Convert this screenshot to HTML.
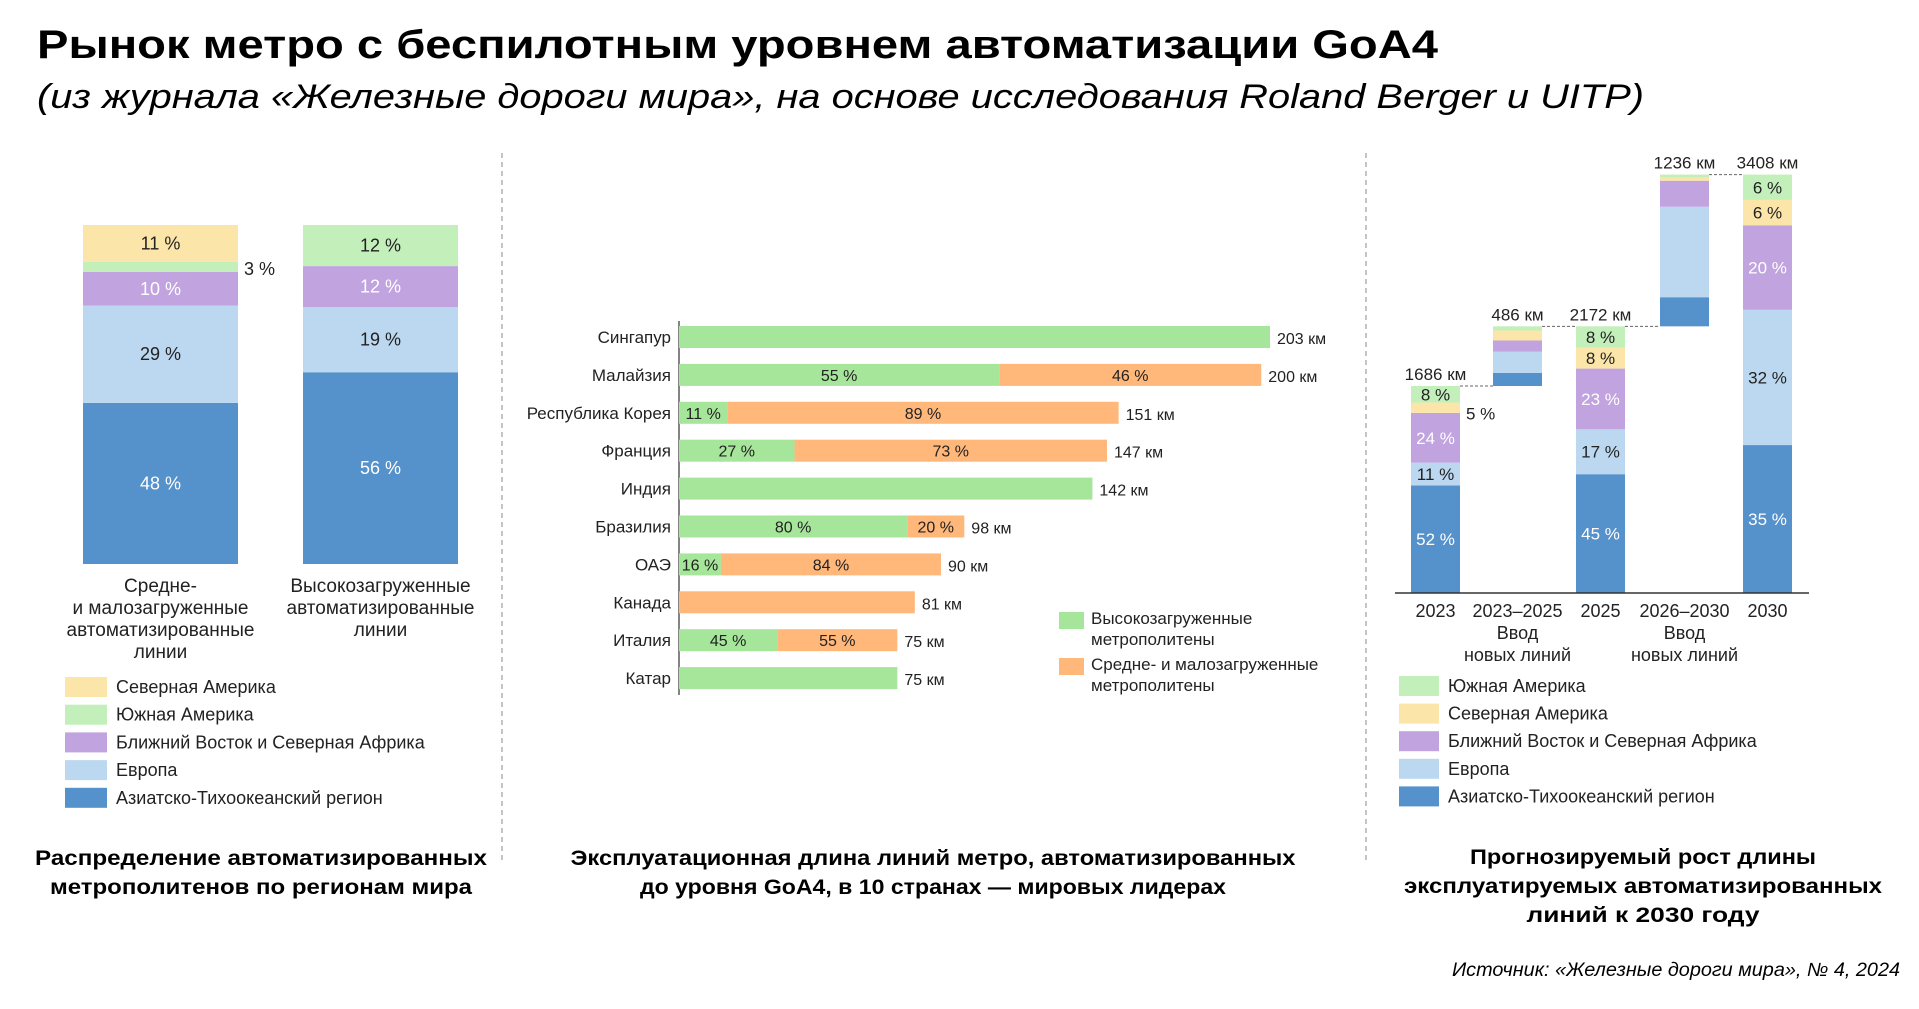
<!DOCTYPE html>
<html><head><meta charset="utf-8"><style>
html,body{margin:0;padding:0;background:#fff;}
svg{display:block;font-family:"Liberation Sans","DejaVu Sans",sans-serif;}
</style></head><body>
<svg id="root" width="1919" height="1009" viewBox="0 0 1919 1009" xmlns="http://www.w3.org/2000/svg">
<text x="37" y="58" font-size="40" font-weight="bold" fill="#000" textLength="1401" lengthAdjust="spacingAndGlyphs">Рынок метро с беспилотным уровнем автоматизации GoA4</text>
<text x="37" y="108" font-size="34" font-style="italic" fill="#000" textLength="1607" lengthAdjust="spacingAndGlyphs">(из журнала «Железные дороги мира», на основе исследования Roland Berger и UITP)</text>
<line x1="502" y1="153" x2="502" y2="863" stroke="#888" stroke-dasharray="5,4"/>
<line x1="1366" y1="153" x2="1366" y2="863" stroke="#888" stroke-dasharray="5,4"/>
<g id="left"></g>
<g id="mid"></g>
<g id="right"></g>
<text x="261" y="865" font-size="21" font-weight="bold" text-anchor="middle" textLength="452" lengthAdjust="spacingAndGlyphs">Распределение автоматизированных</text>
<text x="261" y="894" font-size="21" font-weight="bold" text-anchor="middle" textLength="422" lengthAdjust="spacingAndGlyphs">метрополитенов по регионам мира</text>
<text x="933" y="865" font-size="21" font-weight="bold" text-anchor="middle" textLength="725" lengthAdjust="spacingAndGlyphs">Эксплуатационная длина линий метро, автоматизированных</text>
<text x="933" y="894" font-size="21" font-weight="bold" text-anchor="middle" textLength="586" lengthAdjust="spacingAndGlyphs">до уровня GoA4, в 10 странах — мировых лидерах</text>
<text x="1643" y="864" font-size="21" font-weight="bold" text-anchor="middle" textLength="346" lengthAdjust="spacingAndGlyphs">Прогнозируемый рост длины</text>
<text x="1643" y="893" font-size="21" font-weight="bold" text-anchor="middle" textLength="478" lengthAdjust="spacingAndGlyphs">эксплуатируемых автоматизированных</text>
<text x="1643" y="922" font-size="21" font-weight="bold" text-anchor="middle" textLength="233" lengthAdjust="spacingAndGlyphs">линий к 2030 году</text>
<text x="1900" y="976" font-size="19" font-style="italic" text-anchor="end" textLength="448" lengthAdjust="spacingAndGlyphs">Источник: «Железные дороги мира», № 4, 2024</text>
</svg>
<script>
const NS='http://www.w3.org/2000/svg';
function mk(p,tag,at,txt){const e=document.createElementNS(NS,tag);for(const k in at)e.setAttribute(k,at[k]);if(txt!==undefined)e.textContent=txt;p.appendChild(e);return e;}
const COL={sa:'#C3EFBB',na:'#FBE5A8',mena:'#C1A3E0',eu:'#BBD8F0',apac:'#5591CB'};

// ---------- LEFT chart data ----------
const leftCats=['Средне-|и малозагруженные|автоматизированные|линии','Высокозагруженные|автоматизированные|линии'];
const leftAPAC=[48,56];
const leftEU=[29,19];
const leftMENA=[10,12];
const leftSA=[3,12];
const leftNA=[11,0];

// ---------- MIDDLE chart data ----------
const midCountries=['Сингапур','Малайзия','Республика Корея','Франция','Индия','Бразилия','ОАЭ','Канада','Италия','Катар'];
const midTotals=[203,200,151,147,142,98,90,81,75,75];
const midHighPct=[100,55,11,27,100,80,16,0,45,100];
const midHighLabel=['','55 %','11 %','27 %','','80 %','16 %','','45 %',''];
const midLowLabel=['','46 %','89 %','73 %','','20 %','84 %','','55 %',''];

// ---------- RIGHT chart data ----------
const rightCats=['2023','2023–2025|Ввод|новых линий','2025','2026–2030|Ввод|новых линий','2030'];
const rightKm=[1686,486,2172,1236,3408];
const rightBaseKm=[0,1686,0,2172,0];
const rightAPAC=[52,22,45,19,35];
const rightEU=[11,36,17,59,32];
const rightMENA=[24,19,23,17,20];
const rightNA=[5,17,8,2,6];
const rightSA=[8,7,8,2,6];
const rightShowLabels=[true,false,true,false,true];

// ===== LEFT =====
(function(){
 const g=document.getElementById('left');
 const top=225,bot=564,xs=[83,303],w=155;
 const ser=[['apac',leftAPAC,'#fff'],['eu',leftEU,'#222'],['mena',leftMENA,'#fff'],['sa',leftSA,'#222'],['na',leftNA,'#222']];
 for(let i=0;i<2;i++){
  let tot=0;ser.forEach(s=>tot+=s[1][i]);
  const sc=(bot-top)/tot;let y=bot;
  ser.forEach(s=>{
   const v=s[1][i];if(!v)return;const h=v*sc;y-=h;
   const r=mk(g,'rect',{x:xs[i],y:y,width:w,height:h,fill:COL[s[0]]});
   
   
   if(h>20){const t=mk(g,'text',{x:xs[i]+w/2,y:y+h/2+6,'font-size':18,'text-anchor':'middle',fill:s[2]},v+' %');
    }
   else{const t=mk(g,'text',{x:xs[i]+w+6,y:y+h/2+8,'font-size':18,fill:'#222'},v+' %');
    }
  });
  leftCats[i].split('|').forEach((ln,j)=>{const t=mk(g,'text',{x:xs[i]+w/2,y:592+j*22,'font-size':19,'text-anchor':'middle',fill:'#222'},ln);
   });
 }
 const leg=[['na','Северная Америка'],['sa','Южная Америка'],['mena','Ближний Восток и Северная Африка'],['eu','Европа'],['apac','Азиатско-Тихоокеанский регион']];
 leg.forEach((l,j)=>{const cy=687+j*27.7;
  const r=mk(g,'rect',{x:65,y:cy-10,width:42,height:20,fill:COL[l[0]]});
  
  const t=mk(g,'text',{x:116,y:cy+6,'font-size':18,fill:'#222'},l[1]);
  });
})();

// ===== MIDDLE =====
(function(){
 const g=document.getElementById('mid');
 const x0=679,k=591/203,y0=326,step=37.9,bh=22;
 const ax=mk(g,'line',{x1:x0,y1:321,x2:x0,y2:695,stroke:'#333','stroke-width':1.2});
 
 midCountries.forEach((c,i)=>{
  const y=y0+i*step,W=midTotals[i]*k,wh=W*midHighPct[i]/100;
  const t=mk(g,'text',{x:671,y:y+bh/2+6,'font-size':17,'text-anchor':'end',fill:'#222'},c);
  
  if(wh>0){const r=mk(g,'rect',{x:x0,y:y,width:wh,height:bh,fill:'#A6E69A'});
   }
  if(W-wh>0){const r=mk(g,'rect',{x:x0+wh,y:y,width:W-wh,height:bh,fill:'#FFB77A'});
   }
  if(midHighLabel[i]){const tt=mk(g,'text',{x:x0+wh/2,y:y+bh/2+6,'font-size':16,'text-anchor':'middle',fill:'#222'},midHighLabel[i]);
   }
  if(midLowLabel[i]){const tt=mk(g,'text',{x:x0+wh+(W-wh)/2,y:y+bh/2+6,'font-size':16,'text-anchor':'middle',fill:'#222'},midLowLabel[i]);
   }
  const v=mk(g,'text',{x:x0+W+7,y:y+bh/2+7,'font-size':16,fill:'#222'},midTotals[i]+' км');
  
 });
 const lg=[['#A6E69A','Высокозагруженные','метрополитены',612],['#FFB77A','Средне- и малозагруженные','метрополитены',658]];
 lg.forEach(l=>{const r=mk(g,'rect',{x:1059,y:l[3],width:25,height:17,fill:l[0]});
  
  const t1=mk(g,'text',{x:1091,y:l[3]+12,'font-size':17,fill:'#222'},l[1]);
  
  const t2=mk(g,'text',{x:1091,y:l[3]+33,'font-size':17,fill:'#222'},l[2]);
  });
})();

// ===== RIGHT =====
(function(){
 const g=document.getElementById('right');
 const base=593,k=207/1686,xs=[1411,1493,1576,1660,1743],w=49;
 const Y=km=>base-km*k;
 const ser=[['apac',rightAPAC,'#fff'],['eu',rightEU,'#222'],['mena',rightMENA,'#fff'],['na',rightNA,'#222'],['sa',rightSA,'#222']];
 for(let i=0;i<5;i++){
  let tot=0;ser.forEach(s=>tot+=s[1][i]);
  let km=rightBaseKm[i];
  ser.forEach(s=>{
   const seg=rightKm[i]*s[1][i]/tot;const y1=Y(km),y2=Y(km+seg);km+=seg;
   const r=mk(g,'rect',{x:xs[i],y:y2,width:w,height:y1-y2,fill:COL[s[0]]});
   
   if(rightShowLabels[i]){const h=y1-y2;
    if(h>14){const t=mk(g,'text',{x:xs[i]+w/2,y:(y1+y2)/2+6,'font-size':17,'text-anchor':'middle',fill:s[2]},s[1][i]+' %');
     }
    else{const t=mk(g,'text',{x:xs[i]+w+6,y:(y1+y2)/2+12,'font-size':17,fill:'#222'},s[1][i]+' %');
     }}
  });
  const topY=Y(rightBaseKm[i]+rightKm[i]);
  const tl=mk(g,'text',{x:xs[i]+w/2,y:topY-6,'font-size':17,'text-anchor':'middle',fill:'#222'},rightKm[i]+' км');
  
  if(i<4){const d=mk(g,'line',{x1:xs[i]+w,y1:topY,x2:xs[i+1],y2:topY,stroke:'#666','stroke-dasharray':'3,2'});
   }
  rightCats[i].split('|').forEach((ln,j)=>{const t=mk(g,'text',{x:xs[i]+w/2,y:617+j*22,'font-size':18,'text-anchor':'middle',fill:'#222'},ln);
   });
 }
 const ax=mk(g,'line',{x1:1395,y1:base,x2:1809,y2:base,stroke:'#333','stroke-width':1.5});
 
 const leg=[['sa','Южная Америка'],['na','Северная Америка'],['mena','Ближний Восток и Северная Африка'],['eu','Европа'],['apac','Азиатско-Тихоокеанский регион']];
 leg.forEach((l,j)=>{const cy=686+j*27.6;
  const r=mk(g,'rect',{x:1399,y:cy-10,width:40,height:20,fill:COL[l[0]]});
  
  const t=mk(g,'text',{x:1448,y:cy+6,'font-size':18,fill:'#222'},l[1]);
  });
})();
</script>
</body></html>
